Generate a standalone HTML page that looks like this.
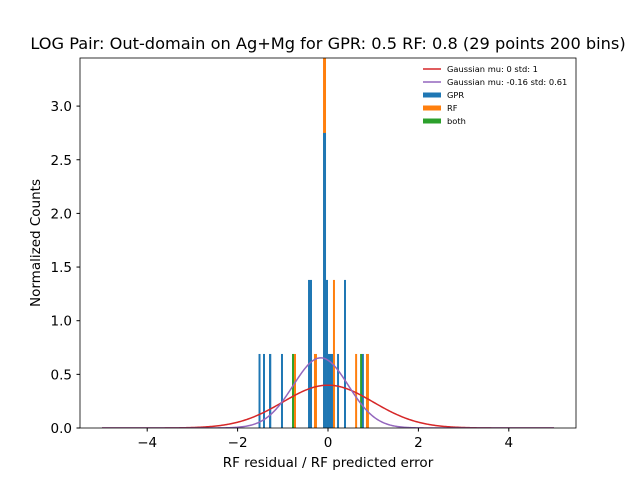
<!DOCTYPE html>
<html><head><meta charset="utf-8"><style>
body{margin:0;background:#fff}
svg text{font-family:"DejaVu Sans","Liberation Sans",sans-serif}
</style></head><body>
<svg id="chart" width="640" height="480">
<rect width="640" height="480" fill="#fff"/>
<text x="328" y="49" font-size="16.2" text-anchor="middle">LOG Pair: Out-domain on Ag+Mg for GPR: 0.5 RF: 0.8 (29 points 200 bins)</text>
<defs><clipPath id="plotclip"><rect x="80" y="58" width="496" height="370"/></clipPath></defs>
<g id="bars" clip-path="url(#plotclip)"></g>
<g id="curves" clip-path="url(#plotclip)"></g>
<rect x="80" y="58" width="496" height="370" fill="none" stroke="#000" stroke-width="0.8"/>
<g id="axes"></g>
<text x="328" y="467" font-size="13.5" text-anchor="middle">RF residual / RF predicted error</text>
<text transform="translate(40,243) rotate(-90)" font-size="13.5" text-anchor="middle">Normalized Counts</text>
<g font-size="8.3">
<line x1="423" y1="69" x2="441" y2="69" stroke="#d62728" stroke-width="1.5"/>
<text x="447" y="72">Gaussian mu: 0 std: 1</text>
<line x1="423" y1="82" x2="441" y2="82" stroke="#9467bd" stroke-width="1.5"/>
<text x="447" y="85">Gaussian mu: -0.16 std: 0.61</text>
<rect x="423" y="92.5" width="18" height="5" fill="#1f77b4"/>
<text x="447" y="98">GPR</text>
<rect x="423" y="105.5" width="18" height="5" fill="#ff7f0e"/>
<text x="447" y="111">RF</text>
<rect x="423" y="118.5" width="18" height="5" fill="#2ca02c"/>
<text x="447" y="124">both</text>
</g>
</svg>
<script>
const gprLeft=[-1.537,-1.438,-1.305,-1.04,-0.442,-0.11,-0.044,0.0,0.2,0.354,0.75];
const gprHeight=[0.69,0.69,0.69,0.69,1.38,2.75,1.38,0.69,0.69,1.38,0.69];
const gprWidth=[0.044,0.044,0.05,0.044,0.088,0.066,0.044,0.11,0.044,0.044,0.044];
const rfLeft=[-0.752,-0.31,-0.11,0.11,0.6,0.84];
const rfHeight=[0.69,0.69,3.6,1.38,0.69,0.69];
const rfWidth=[0.044,0.066,0.066,0.044,0.044,0.066];
const bothLeft=[-0.796,0.71];
const bothHeight=[0.69,0.69];
const bothWidth=[0.044,0.044];
const gaussMu=[0,-0.16];
const gaussStd=[1,0.61];
const xTicks=[-4,-2,0,2,4];
const yTicks=[0,0.5,1.0,1.5,2.0,2.5,3.0];
const yTickLabels=["0.0","0.5","1.0","1.5","2.0","2.5","3.0"];
const NS="http://www.w3.org/2000/svg";
const X=v=>328+v*45.2, Y=v=>428-v*107.3;
const bars=document.getElementById('bars');
function drawBars(L,H,W,color,name){
  for(let i=0;i<L.length;i++){
    const r=document.createElementNS(NS,'rect');
    r.setAttribute('x',X(L[i]));r.setAttribute('width',W[i]*45.2);
    r.setAttribute('y',Y(H[i]));r.setAttribute('height',H[i]*107.3);
    r.setAttribute('fill',color);
    
    
    bars.appendChild(r);
  }
}
drawBars(rfLeft,rfHeight,rfWidth,'#ff7f0e','bar-rf');
drawBars(gprLeft,gprHeight,gprWidth,'#1f77b4','bar-gpr');
drawBars(bothLeft,bothHeight,bothWidth,'#2ca02c','bar-both');
const curves=document.getElementById('curves');
const colors=['#d62728','#9467bd'];
for(let k=0;k<gaussMu.length;k++){
  let d='';
  for(let i=0;i<=400;i++){
    const x=-5+i*10/400;
    const y=Math.exp(-0.5*((x-gaussMu[k])/gaussStd[k])**2)/(gaussStd[k]*Math.sqrt(2*Math.PI));
    d+=(i?'L':'M')+X(x).toFixed(2)+','+Y(y).toFixed(2);
  }
  const p=document.createElementNS(NS,'path');
  p.setAttribute('d',d);p.setAttribute('fill','none');p.setAttribute('stroke',colors[k]);p.setAttribute('stroke-width','1.5');
  
  
  curves.appendChild(p);
}
const axes=document.getElementById('axes');
xTicks.forEach(t=>{
  const l=document.createElementNS(NS,'line');
  l.setAttribute('x1',X(t));l.setAttribute('x2',X(t));l.setAttribute('y1',428);l.setAttribute('y2',431.5);l.setAttribute('stroke','#000');
  
  
  axes.appendChild(l);
  const tx=document.createElementNS(NS,'text');
  tx.setAttribute('x',X(t));tx.setAttribute('y',447);tx.setAttribute('font-size','13.5');tx.setAttribute('text-anchor','middle');
  tx.textContent=(t<0?'\u2212':'')+Math.abs(t);
  
  
  axes.appendChild(tx);
});
yTicks.forEach((t,i)=>{
  const l=document.createElementNS(NS,'line');
  l.setAttribute('x1',76.5);l.setAttribute('x2',80);l.setAttribute('y1',Y(t));l.setAttribute('y2',Y(t));l.setAttribute('stroke','#000');
  
  
  axes.appendChild(l);
  const tx=document.createElementNS(NS,'text');
  tx.setAttribute('x',72);tx.setAttribute('y',Y(t)+5);tx.setAttribute('font-size','13.5');tx.setAttribute('text-anchor','end');
  tx.textContent=yTickLabels[i];
  
  
  axes.appendChild(tx);
});
</script>
</body></html>
